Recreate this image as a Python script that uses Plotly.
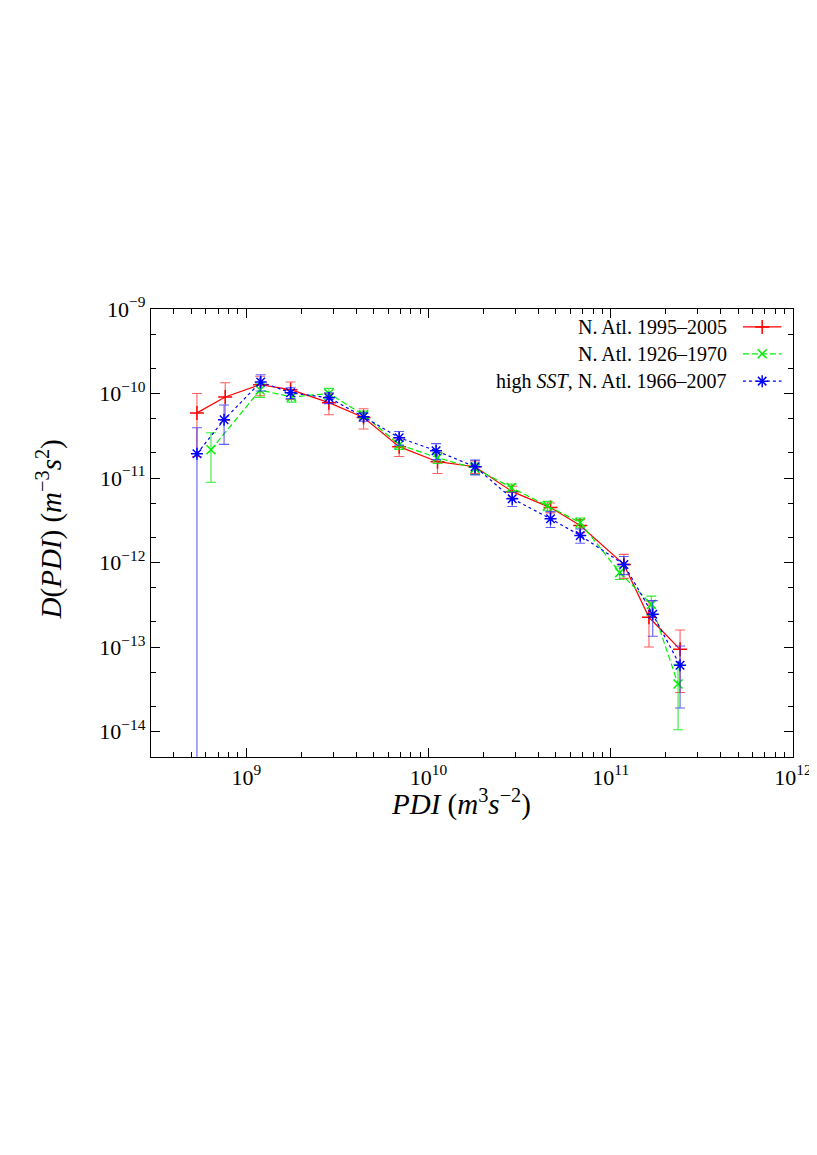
import plotly.graph_objects as go

# ---------------- data ----------------
red_name = "N. Atl. 1995–2005"
red_x = [5.36e8, 7.66e8, 1.19e9, 1.75e9, 2.84e9, 4.4e9, 6.9e9, 1.12e10, 1.8e10,
         2.88e10, 4.67e10, 6.8e10, 1.18e11, 1.62e11, 2.4e11]
red_y = [5.9e-11, 9.1e-11, 1.27e-10, 1.11e-10, 7.8e-11, 5.2e-11, 2.35e-11, 1.56e-11, 1.36e-11,
         6.9e-12, 4.47e-12, 2.74e-12, 9.5e-13, 2.25e-13, 9.4e-14]
red_err = [4.1e-11, 4.3e-11, 3.3e-11, 2.6e-11, 2.2e-11, 1.4e-11, 5.5e-12, 4.3e-12, 2.3e-12,
           1.1e-12, 6.0e-13, 4.8e-13, 3.0e-13, 1.25e-13, 6.5e-14]

green_name = "N. Atl. 1926–1970"
green_x = [6.4e8, 1.19e9, 1.77e9, 2.84e9, 4.4e9, 6.9e9, 1.12e10, 1.8e10,
           2.85e10, 4.5e10, 6.8e10, 1.12e11, 1.67e11, 2.34e11]
green_y = [2.16e-11, 1.1e-10, 9.1e-11, 1.0e-10, 5.6e-11, 2.48e-11, 1.74e-11, 1.3e-11,
           7.7e-12, 4.7e-12, 2.97e-12, 7.6e-13, 3.2e-13, 3.65e-14]
green_err = [1.27e-11, 2.0e-11, 1.2e-11, 1.5e-11, 6.0e-12, 3.0e-12, 2.5e-12, 2.0e-12,
             8.0e-13, 6.0e-13, 4.0e-13, 1.3e-13, 8.0e-14, 2.6e-14]

blue_name = "high <i>SST</i>, N. Atl. 1966–2007"
blue_x = [5.36e8, 7.55e8, 1.2e9, 1.75e9, 2.84e9, 4.4e9, 6.9e9, 1.1e10, 1.8e10,
          2.88e10, 4.67e10, 6.8e10, 1.18e11, 1.7e11, 2.4e11]
blue_y = [1.94e-11, 4.9e-11, 1.37e-10, 1.02e-10, 8.9e-11, 5.3e-11, 3.0e-11, 2.1e-11, 1.36e-11,
          5.7e-12, 3.3e-12, 2.09e-12, 9.5e-13, 2.44e-13, 6.1e-14]
blue_err = [2.0e-11, 2.4e-11, 3.0e-11, 1.5e-11, 1.3e-11, 6.0e-12, 5.5e-12, 4.5e-12, 2.7e-12,
            1.1e-12, 7.0e-13, 4.0e-13, 2.3e-13, 1.1e-13, 4.2e-14]

x_range_log = [8.477, 12.0]      # 3e8 .. 1e12
y_range_log = [-14.301, -9.0]    # 5e-15 .. 1e-9
x_decades = [9, 10, 11, 12]
y_decades = [-14, -13, -12, -11, -10, -9]

FONT = "Liberation Serif"


def pow_label(e):
    s = str(e).replace("-", "−")
    return "10<sup>%s</sup>" % s


series = [
    dict(name=red_name, x=red_x, y=red_y, err=red_err, color="#ff0000",
         errcolor="rgba(255,40,40,0.75)", dash="solid", symbol="cross-thin", size=10),
    dict(name=green_name, x=green_x, y=green_y, err=green_err, color="#00f000",
         errcolor="rgba(0,230,0,0.8)", dash="6px,3px", symbol="x-thin", size=9),
    dict(name=blue_name, x=blue_x, y=blue_y, err=blue_err, color="#0000ff",
         errcolor="rgba(40,40,255,0.75)", dash="3px,3px", symbol="asterisk", size=10),
]

fig = go.Figure()
for s in series:
    fig.add_trace(go.Scatter(
        x=s["x"], y=s["y"], mode="lines+markers", name=s["name"], showlegend=False,
        line=dict(color=s["color"], width=1.2, dash=s["dash"]),
        marker=dict(symbol=s["symbol"], size=s["size"], color=s["color"],
                    line=dict(color=s["color"], width=1.5)),
        error_y=dict(type="data", array=s["err"], symmetric=True, color=s["errcolor"],
                     thickness=1.1, width=5),
    ))

# ---------------- custom legend (text left, sample right, as in gnuplot) --------------
leg_rows = [0.960, 0.900, 0.839]
for s, ry in zip(series, leg_rows):
    fig.add_annotation(xref="paper", yref="paper", x=0.900, y=ry, text=s["name"],
                       showarrow=False, xanchor="right", yanchor="middle",
                       font=dict(family=FONT, size=20, color="black"))
    fig.add_trace(go.Scatter(
        x=[0.922, 0.952, 0.982], y=[ry, ry, ry], xaxis="x2", yaxis="y2",
        mode="lines", showlegend=False, hoverinfo="skip",
        line=dict(color=s["color"], width=1.2, dash=s["dash"])))
    fig.add_trace(go.Scatter(
        x=[0.952], y=[ry], xaxis="x2", yaxis="y2", mode="markers",
        showlegend=False, hoverinfo="skip",
        marker=dict(symbol=s["symbol"], size=s["size"], color=s["color"],
                    line=dict(color=s["color"], width=1.5))))

# axis titles as annotations (exact placement)
fig.add_annotation(xref="paper", yref="paper", x=0.483, y=-0.101,
                   text="<i>PDI</i> (<i>m</i><sup>3</sup><i>s</i><sup>−2</sup>)",
                   showarrow=False, xanchor="center", yanchor="middle",
                   font=dict(family=FONT, size=29, color="black"))
fig.add_annotation(xref="paper", yref="paper", x=-0.158, y=0.507, textangle=-90,
                   text="<i>D</i>(<i>PDI</i>) (<i>m</i><sup>−3</sup><i>s</i><sup>2</sup>)",
                   showarrow=False, xanchor="center", yanchor="middle",
                   font=dict(family=FONT, size=29, color="black"))

y_minor = [m * 10.0 ** e for e in range(-15, -8) for m in (2, 5)]

axis_common = dict(
    type="log", showline=True, linecolor="black", linewidth=1.3, mirror="allticks",
    ticks="inside", ticklen=9, tickwidth=1.2, tickcolor="black",
    showgrid=False, zeroline=False, automargin=False,
    tickfont=dict(family=FONT, size=22, color="black"),
)

# the page body adds an 8px offset, so the figure is sized 8px smaller
fig.update_layout(
    width=809, height=1147,
    paper_bgcolor="white", plot_bgcolor="white",
    margin=dict(l=143, r=24, t=301, b=398),
    font=dict(family=FONT, color="black"),
    xaxis=dict(axis_common, range=x_range_log,
               tickvals=[10.0 ** e for e in x_decades],
               ticktext=[pow_label(e) for e in x_decades],
               minor=dict(ticks="inside", ticklen=5, tickcolor="black", tickwidth=1,
                          tickvals=[m * 10.0 ** e for e in range(8, 12) for m in range(2, 10)])),
    yaxis=dict(axis_common, range=y_range_log,
               tickvals=[10.0 ** e for e in y_decades],
               ticktext=[pow_label(e) for e in y_decades],
               minor=dict(ticks="inside", ticklen=5, tickcolor="black", tickwidth=1,
                          tickvals=y_minor)),
    xaxis2=dict(overlaying="x", range=[0, 1], visible=False, fixedrange=True),
    yaxis2=dict(overlaying="y", range=[0, 1], visible=False, fixedrange=True),
)

fig.write_html("out.html")
